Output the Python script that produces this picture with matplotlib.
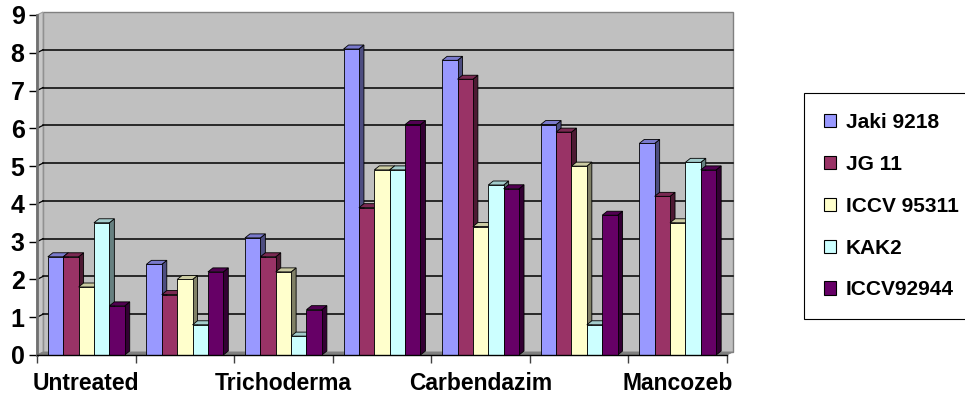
import matplotlib.pyplot as plt
from matplotlib.patches import Polygon, Rectangle, Patch
import numpy as np

plt.rcParams["font.family"] = ["Liberation Sans", "DejaVu Sans"]
plt.rcParams["font.weight"] = "bold"

categories = ["Untreated", "", "Trichoderma", "", "Carbendazim", "", "Mancozeb"]
varieties = ["Jaki 9218", "JG 11", "ICCV 95311", "KAK2", "ICCV92944"]
jaki_9218 = [2.6, 2.4, 3.1, 8.1, 7.8, 6.1, 5.6]
jg_11 = [2.6, 1.6, 2.6, 3.9, 7.3, 5.9, 4.2]
iccv_95311 = [1.8, 2.0, 2.2, 4.9, 3.4, 5.0, 3.5]
kak2 = [3.5, 0.8, 0.5, 4.9, 4.5, 0.8, 5.1]
iccv_92944 = [1.3, 2.2, 1.2, 6.1, 4.4, 3.7, 4.9]
series = [jaki_9218, jg_11, iccv_95311, kak2, iccv_92944]

colors = ["#9999FF", "#993366", "#FFFFCC", "#CCFFFF", "#660066"]


def shade(c, f):
    r, g, b = plt.matplotlib.colors.to_rgb(c)
    return (r * f, g * f, b * f)


W, H = 965, 400
fig = plt.figure(figsize=(W / 100, H / 100), dpi=100)
ax = fig.add_axes([37 / W, 45 / H, 690 / W, 340 / H])
n = len(categories)
ax.set_xlim(0, n)
ax.set_ylim(0, 9)
ax.set_facecolor("none")

# pixel -> data unit conversion for the 3d depth effect
px = n / 690
py = 9 / 340
wdx, wdy = 6 * px, 3 * py     # walls
bdx, bdy = 5 * px, 4 * py     # bars

# back wall, left wall and floor
ax.add_patch(Rectangle((wdx, wdy), n, 9, facecolor="#C0C0C0", edgecolor="#808080",
                       lw=1, zorder=0, clip_on=False))
ax.add_patch(Polygon([(0, 0), (wdx, wdy), (wdx, 9 + wdy), (0, 9)], closed=True,
                     facecolor="#C8C8C8", edgecolor="#A0A0A0", lw=0.8, zorder=0.5,
                     clip_on=False))
ax.add_patch(Polygon([(0, 0), (n, 0), (n + wdx, wdy), (wdx, wdy)], closed=True,
                     facecolor="#808080", edgecolor="#808080", lw=0.5, zorder=0.5,
                     clip_on=False))
for y in range(1, 9):
    ax.plot([wdx, n + wdx], [y + wdy, y + wdy], color="black", lw=1.1, zorder=1,
            clip_on=False)
    ax.plot([0, wdx], [y, y + wdy], color="black", lw=0.9, zorder=1, clip_on=False)

# 3d-looking bars
bw = 0.156
gap = (1 - bw * len(series)) / 2
for k, (vals, c) in enumerate(zip(series, colors)):
    for i, v in enumerate(vals):
        x0 = i + gap + k * bw
        x1 = x0 + bw
        z = 3 + i + k * 0.1
        side = [(x1, 0), (x1 + bdx, bdy), (x1 + bdx, v + bdy), (x1, v)]
        top = [(x0, v), (x0 + bdx, v + bdy), (x1 + bdx, v + bdy), (x1, v)]
        ax.add_patch(Polygon(side, closed=True, facecolor=shade(c, 0.5),
                             edgecolor="black", lw=0.6, zorder=z, clip_on=False))
        ax.add_patch(Polygon(top, closed=True, facecolor=shade(c, 0.8),
                             edgecolor="black", lw=0.6, zorder=z, clip_on=False))
        ax.add_patch(Rectangle((x0, 0), bw, v, facecolor=c, edgecolor="black",
                               lw=0.6, zorder=z + 0.05, clip_on=False))

for s in ["top", "right"]:
    ax.spines[s].set_visible(False)
ax.spines["left"].set_color("#707070")
ax.spines["left"].set_linewidth(2)
ax.spines["left"].set_zorder(2)
ax.spines["bottom"].set_color("black")
ax.spines["bottom"].set_linewidth(1)
ax.spines["bottom"].set_zorder(20)

ax.set_yticks(range(10))
ax.tick_params(axis="y", direction="out", length=6, width=1, color="black",
               labelsize=18, pad=3)
ax.set_xticks(range(n + 1))
ax.set_xticklabels([])
ax.tick_params(axis="x", which="major", direction="out", length=6, width=1,
               color="#404040")
ax.set_xticks(np.arange(n) + 0.5, minor=True)
ax.set_xticklabels(categories, minor=True)
ax.tick_params(axis="x", which="minor", length=0, labelsize=16.5, pad=12)
for lab in ax.get_yticklabels() + ax.get_xticklabels(minor=True):
    lab.set_fontweight("bold")

handles = [Patch(facecolor=c, edgecolor="black", lw=0.8) for c in colors]
leg = fig.legend(handles, varieties, loc="upper left",
                 bbox_to_anchor=(804 / W, 1 - 93 / H), borderaxespad=0,
                 fancybox=False, edgecolor="black", framealpha=1,
                 prop={"size": 15, "weight": "bold"},
                 handlelength=0.6, handleheight=0.6, handletextpad=0.45,
                 labelspacing=1.1, borderpad=0.95)
leg.get_frame().set_linewidth(0.8)

fig.savefig("out.png", dpi=100)
